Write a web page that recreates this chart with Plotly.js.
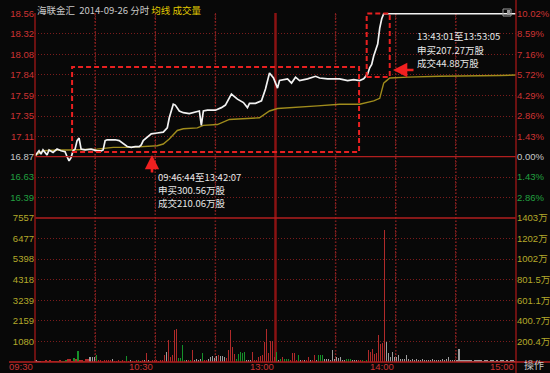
<!DOCTYPE html>
<html><head><meta charset="utf-8">
<script src="https://cdn.plot.ly/plotly-3.0.1.min.js"></script>
<style>html,body{margin:0;padding:0;background:#080808;}#chart{width:550px;height:373px;}</style>
</head><body><div id="chart"></div>
<script>
// ---------- data ----------
const stockName = '海联金汇';
const tradeDate = '2014-09-26';
const prevClose = 16.87;

// minute index (0 = 09:30, 120 = 13:00, 240 = 15:00) and price at each vertex of the price line
const priceMinutes = [0,2,3,4,6,7,9,11,13,15,16,17,18,19,20,21,22,23,25,28,31,33,34,35,36,40,42,44,46,48,50,52,53,54,55,57,58,61,64,66,67,69,70,72,74,77,80,82,83,84,86,90,93,95,98,100,101,104,106,107,110,113,115,117,119,121,122,126,128,130,132,136,140,142,146,152,156,159,162,164,166,167,168,169,171,172,173,174,240];
const priceValues  = [16.88,16.94,16.90,16.95,16.89,16.95,16.92,16.96,16.94,16.93,16.87,16.82,16.86,16.94,16.96,17.06,17.09,16.96,16.95,16.96,16.94,16.94,16.95,17.06,17.07,17.07,17.06,17.02,16.99,16.98,16.99,16.99,17.01,17.06,17.08,17.13,17.14,17.15,17.16,17.21,17.33,17.49,17.48,17.41,17.39,17.38,17.40,17.41,17.24,17.41,17.42,17.42,17.45,17.48,17.61,17.57,17.55,17.51,17.45,17.50,17.50,17.53,17.67,17.86,17.80,17.68,17.77,17.79,17.74,17.81,17.77,17.79,17.82,17.80,17.79,17.79,17.77,17.78,17.77,17.79,17.85,17.92,17.96,18.06,18.20,18.39,18.50,18.56,18.56];

const avgMinutes = [0,4,12,17,31,39,47,54,61,64,67,71,74,81,84,91,92,97,112,117,121,129,141,152,162,169,172,173,174,175,177,186,202,232,240];
const avgValues  = [16.88,16.94,16.95,16.95,16.96,16.98,16.98,16.99,17.00,17.02,17.08,17.18,17.20,17.21,17.24,17.25,17.26,17.31,17.33,17.41,17.44,17.45,17.47,17.49,17.49,17.53,17.56,17.65,17.74,17.76,17.80,17.81,17.82,17.83,17.835];

// volume per minute (hands), 240 minutes; colour code r = up, g = down, w = flat
const volumeHands = [
  90,60,70,40,50,80,60,90,50,70,
  40,60,80,50,70,105,157,157,60,210,
  157,580,90,100,60,157,157,262,262,262,
  367,80,100,70,120,90,100,80,157,60,
  60,80,50,100,70,315,60,110,50,40,
  80,100,60,90,105,472,105,60,80,100,
  100,60,80,90,367,525,1155,262,367,1680,
  1732,210,210,892,105,100,105,80,630,130,
  157,130,157,472,100,105,157,262,315,210,
  315,367,315,315,262,210,630,1680,787,420,
  157,420,525,472,525,105,105,100,525,105,
  105,262,315,367,1050,1732,472,1102,1102,262,
  525,105,157,262,157,157,157,105,472,472,
  105,367,105,100,105,80,262,105,100,367,
  105,367,367,367,157,157,157,105,630,157,
  262,210,262,105,105,157,157,157,105,105,
  105,80,80,105,60,80,630,525,682,420,
  472,1417,945,997,6930,1050,472,262,525,262,
  262,367,157,157,157,367,157,105,157,105,
  157,105,105,157,105,105,80,105,157,105,
  105,80,105,157,105,157,262,105,80,105,
  80,682,105,80,105,80,105,80,60,105,
  80,105,80,60,105,80,60,105,80,60,
  105,60,80,105,60,80,60,105,80,60
];
const volumeColors =
  'wwwrrrgrrr' + 'rgrgggrrrg' + 'rgrrgrrwww' + 'grrrrrrrwr' + 'rrgrrgrwrr' +
  'rgwrwrwrrr' + 'rrrrrwrrrr' + 'rggggwrgrw' + 'wwwgrrwwww' + 'wrwwwrrrrr' +
  'gggggwwwrr' + 'rrrrrrrrrr' + 'gwgrgggrrr' + 'rgwrwrrwrr' + 'wgggwwwwww' +
  'wwwwwgggww' + 'wrrgrgrrrr' + 'rrrrrwwwww' + 'wwwwwwwwww' + 'wwwwwwwwww' +
  'wwwwwwwwww' + 'wwwwwwwwww' + 'wwwwwwwwww' + 'wwwwwwwwww';

const priceTickLabels  = ['18.56','18.32','18.08','17.84','17.59','17.35','17.11','16.87','16.63','16.39'];
const pctTickLabels    = ['10.02%','8.59%','7.16%','5.72%','4.29%','2.86%','1.43%','0.00%','1.43%','2.86%'];
const volTickLabels    = ['1080','2159','3239','4318','5398','6477','7557'];
const amountTickLabels = ['200.4万','400.7万','601.1万','801.5万','1002万','1202万','1403万'];
const timeLabels       = ['09:30','10:30','13:00','14:00','15:00'];
const timeLabelMinutes = [0,60,120,180,240];
const gridMinutes      = [30,60,90,150,180,210];

const note1 = ['09:46:44至13:42:07','申买300.56万股','成交210.06万股'];
const note2 = ['13:43:01至13:53:05','申买207.27万股','成交44.88万股'];

// ---------- geometry / style ----------
const W = 550, H = 373, L = 35, R = 516, T = 13, B = 362;
const PW = R - L, PH = B - T;
const px = v => (v - L) / PW;          // pixel -> paper x
const py = v => (B - v) / PH;          // pixel -> paper y
const split = py(218);

const BG = '#080808';
const RED = '#cc3333', GREEN = '#22a040', GRAYT = '#c8c8c8', YEL = '#b4a82a';
const GRID = '#7a1c1c', GRIDV = '#8e2020', BORDER = '#8c1414', BRIGHT = '#b01e1e';
const FONT = 'Liberation Sans, Arial, Noto Sans CJK SC, sans-serif';
const CJK = 'Noto Sans CJK SC, Liberation Sans, sans-serif';

const priceTickVals = priceTickLabels.map(Number);
const step = (priceTickVals[0] - prevClose) / 7;
const yLo = prevClose - 3 * step, yHi = priceTickVals[0] + 0.008;
const colorFor = v => v > prevClose + 1e-9 ? RED : (v < prevClose - 1e-9 ? GREEN : GRAYT);
const span = (t, c) => `<span style="color:${c}">${t}</span>`;

const barColorMap = {r: '#b02a2a', g: '#16902a', w: '#9c9c9c'};
const volX = volumeHands.map((_, i) => i + 0.5);
const volCol = volumeHands.map((_, i) => barColorMap[volumeColors[i]]);
const volMax = Number(volTickLabels[volTickLabels.length - 1]);

const traces = [
  {x: volX, y: volumeHands, type: 'bar', xaxis: 'x', yaxis: 'y3', marker: {color: volCol, line: {width: 0}}, width: 0.62, hoverinfo: 'skip', showlegend: false},
  {x: volX, y: volumeHands, type: 'scatter', mode: 'lines', xaxis: 'x', yaxis: 'y4', line: {width: 0}, opacity: 0, hoverinfo: 'skip', showlegend: false},
  {x: avgMinutes, y: avgValues, type: 'scatter', mode: 'lines', xaxis: 'x', yaxis: 'y', line: {color: '#a08c1c', width: 1.4}, hoverinfo: 'skip', showlegend: false},
  {x: priceMinutes, y: priceValues, type: 'scatter', mode: 'lines', xaxis: 'x', yaxis: 'y', line: {color: '#f2f2f2', width: 1.7}, hoverinfo: 'skip', showlegend: false},
  {x: priceMinutes, y: priceValues, type: 'scatter', mode: 'lines', xaxis: 'x', yaxis: 'y2', line: {width: 0}, opacity: 0, hoverinfo: 'skip', showlegend: false}
];

const gridAxis = {showgrid: true, gridcolor: GRID, gridwidth: 1, griddash: '1px,2px', zeroline: false, showline: false, ticks: '', fixedrange: true};
const tickF = {family: FONT, size: 9.5, color: GRAYT};

const shapes = [];
// vertical dotted grid (every 30 minutes)
gridMinutes.forEach(m => shapes.push({type: 'line', layer: 'below', xref: 'x', yref: 'paper', x0: m, x1: m, y0: 0, y1: 1,
  line: {color: GRIDV, width: 1.5, dash: '1.5px,2px'}}));
shapes.push(
  // 11:30/13:00 separator
  {type: 'line', layer: 'below', xref: 'x', yref: 'paper', x0: 120, x1: 120, y0: 0, y1: 1, line: {color: '#8a1212', width: 2.5}},
  // prev close line
  {type: 'line', xref: 'paper', yref: 'y', x0: 0, x1: 1, y0: prevClose, y1: prevClose, line: {color: BRIGHT, width: 1.2}},
  // panel divider
  {type: 'line', xref: 'paper', yref: 'paper', x0: 0, x1: 1, y0: split, y1: split, line: {color: BRIGHT, width: 1.5}},
  // borders
  {type: 'line', xref: 'paper', yref: 'paper', x0: 0, x1: 0, y0: 0, y1: 1, line: {color: BORDER, width: 1.5}},
  {type: 'line', xref: 'paper', yref: 'paper', x0: 1, x1: 1, y0: py(H), y1: py(0), line: {color: BORDER, width: 1.5}},
  {type: 'line', xref: 'paper', yref: 'paper', x0: px(9), x1: px(W), y0: 0, y1: 0, line: {color: BRIGHT, width: 1.5}},
  // highlight boxes
  {type: 'rect', xref: 'x', yref: 'paper', x0: 18.5, x1: 161.7, y0: py(152), y1: py(67), line: {color: '#e82020', width: 2, dash: '5px,3px'}},
  {type: 'rect', xref: 'x', yref: 'paper', x0: 165.5, x1: 177, y0: py(77), y1: py(13.5), line: {color: '#e82020', width: 2, dash: '5px,3px'}},
  // small toggle icon
  {type: 'rect', xref: 'paper', yref: 'paper', x0: px(503), x1: px(511), y0: py(16), y1: py(9), line: {color: '#9a9a9a', width: 1}, fillcolor: 'rgba(0,0,0,0)'},
  {type: 'rect', xref: 'paper', yref: 'paper', x0: px(507), x1: px(510), y0: py(15), y1: py(10), line: {width: 0}, fillcolor: '#9a9a9a'}
);

const layout = {
  width: W, height: H,
  margin: {l: L, r: W - R, t: T, b: H - B, pad: 0},
  paper_bgcolor: BG, plot_bgcolor: 'rgba(0,0,0,0)',
  showlegend: false, bargap: 0,
  xaxis: {domain: [0, 1], range: [0, 240], tickvals: gridMinutes, showgrid: true, gridcolor: GRID, gridwidth: 1, griddash: '1px,2px',
    zeroline: false, showline: false, showticklabels: false, ticks: '', anchor: 'y3', fixedrange: true},
  yaxis: Object.assign({}, gridAxis, {domain: [split, 1], range: [yLo, yHi], tickvals: priceTickVals,
    ticktext: priceTickLabels.map((t, i) => span(t, colorFor(priceTickVals[i]))), tickfont: tickF, anchor: 'x'}),
  yaxis2: {overlaying: 'y', side: 'right', anchor: 'x', range: [yLo, yHi], tickvals: priceTickVals, showgrid: false, zeroline: false, ticks: '',
    ticktext: pctTickLabels.map((t, i) => span(t, colorFor(priceTickVals[i]))), tickfont: tickF, fixedrange: true},
  yaxis3: Object.assign({}, gridAxis, {domain: [0, split], range: [0, volMax], tickvals: volTickLabels.map(Number),
    ticktext: volTickLabels.map(t => span(t, YEL)), tickfont: tickF, anchor: 'x'}),
  yaxis4: {overlaying: 'y3', side: 'right', anchor: 'x', range: [0, volMax], tickvals: volTickLabels.map(Number),
    showgrid: false, zeroline: false, ticks: '', ticktext: amountTickLabels.map(t => span(t, YEL)), tickfont: tickF, fixedrange: true},
  shapes: shapes,
  annotations: []
};

// time labels (right-aligned to their gridline)
timeLabels.forEach((t, i) => layout.annotations.push({
  text: t, xref: 'x', yref: 'paper', x: timeLabelMinutes[i], y: py(374), xanchor: 'right', yanchor: 'bottom',
  showarrow: false, font: {family: FONT, size: 9.5, color: RED}
}));
layout.annotations.push({text: '操作', xref: 'paper', yref: 'paper', x: px(534), y: py(374), xanchor: 'center', yanchor: 'bottom',
  showarrow: false, font: {family: CJK, size: 10, color: GRAYT}});
// header
layout.annotations.push({text: `${stockName}  ${tradeDate} 分时 ` + span('均线 成交量', '#e0c800'), xref: 'paper', yref: 'paper', x: px(35), y: py(1), xanchor: 'left', yanchor: 'top',
  showarrow: false, font: {family: CJK, size: 9.5, color: GRAYT}});
// notes, one annotation per line
const noteLine = (t, x, y) => ({text: t, xref: 'paper', yref: 'paper', x: px(x), y: py(y), xanchor: 'left', yanchor: 'middle', align: 'left',
  showarrow: false, borderpad: 0, font: {family: CJK, size: 9.5, color: '#e6e6e6'}});
note1.forEach((t, i) => layout.annotations.push(noteLine(t, 157, 177 + 13 * i)));
note2.forEach((t, i) => layout.annotations.push(noteLine(t, 416, 36 + 13.5 * i)));
// arrows
layout.annotations.push({text: '', xref: 'paper', yref: 'paper', x: px(152), y: py(155), ax: 0, ay: 19, showarrow: true,
  arrowhead: 2, arrowsize: 1.1, arrowwidth: 2.6, arrowcolor: '#f02020'});
layout.annotations.push({text: '', xref: 'paper', yref: 'paper', x: px(393), y: py(70), ax: 22, ay: 0, showarrow: true,
  arrowhead: 2, arrowsize: 1.1, arrowwidth: 2.6, arrowcolor: '#f02020'});

Plotly.newPlot('chart', traces, layout, {staticPlot: true, displayModeBar: false});
</script></body></html>
